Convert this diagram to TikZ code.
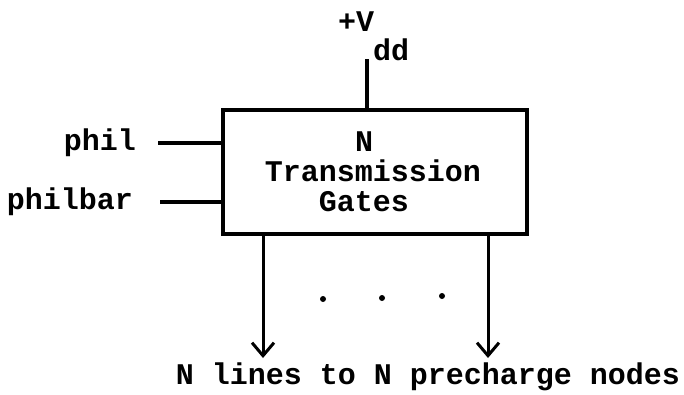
\documentclass[tikz,border=0pt]{standalone}
\usepackage{fontspec}
\setmonofont{Liberation Mono}
\usepackage{tikz}
\usetikzlibrary{arrows.meta,positioning,calc}
\definecolor{inkblack}{RGB}{0,0,0}
\tikzset{
  gatebox/.style ={rectangle, draw=inkblack, line width=3.4pt, minimum width=304pt,
                   minimum height=124pt, inner sep=0pt},
  lbl/.style     ={font=\ttfamily\bfseries\fontsize{30}{30}\selectfont, inner sep=0pt,
                   text=inkblack},
  wire/.style    ={line width=3.2pt, draw=inkblack},
  outflow/.style ={-{Straight Barb[length=13pt,width=22pt,line width=3pt]}, line width=3pt,
                   draw=inkblack},
  dot/.style     ={circle, fill=inkblack, inner sep=0pt, minimum size=6pt}
}
\begin{document}
\begin{tikzpicture}[x=1pt,y=-1pt]
  \useasboundingbox (0,0) rectangle (684,394);

  \node[gatebox] (gates) at (375,172) {};
  \node[lbl, align=center] (gtext) at (373,172) {N\hphantom{x}\\Transmission\\Gates\hphantom{x}};

  \node[lbl, anchor=east] (phi) at (136,143) {phil};
  \node[lbl, anchor=east] (phibar) at (133,202) {philbar};

  \node[lbl, anchor=base] (vplus) at (356,31) {+V};
  \node[lbl, anchor=base] (vdd) at (391,60) {dd};
  \coordinate (vtop) at (367,59);

  \coordinate (out1) at (263,358);
  \coordinate (outn) at (488,358);

  \node[dot] (d1) at (323,299) {};
  \node[dot] (d2) at (382,298) {};
  \node[dot] (d3) at (442,296) {};

  \node[lbl, anchor=base] (lines) at (428,384) {N lines to N precharge nodes};

  \draw[wire] ($(phi.east)+(22,0)$) -- (gates.west |- phi.east);
  \draw[wire] ($(phibar.east)+(27,0)$) -- (gates.west |- phibar.east);
  \draw[wire] (vtop) -- (vtop |- gates.north);
  \draw[outflow] (out1 |- gates.south) -- (out1);
  \draw[outflow] (outn |- gates.south) -- (outn);
\end{tikzpicture}
\end{document}
